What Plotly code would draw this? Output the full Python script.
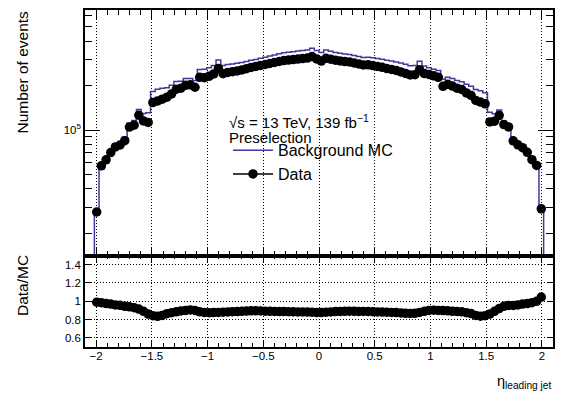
import numpy as np
import plotly.graph_objects as go

# ---------------- data ----------------
x_min, x_max, n_bins = -2.1, 2.1, 100

data_counts = [
    0, 0,
    27900, 57300, 62900, 70400, 76800, 79200, 84700, 104700, 107900, 125900,
    115200, 112600, 153300, 157300, 161800, 166900, 175600, 188800, 191700, 200800,
    202300, 194700, 227200, 226000, 230700, 239800, 261000, 240500, 245400, 248000,
    251100, 255000, 260100, 265000, 269200, 273400, 277600, 281900, 286300, 290800,
    295300, 297600, 299900, 302200, 304600, 306900, 314100, 302800, 293000, 305800,
    301500, 297000, 293500, 290500, 288500, 284100, 279800, 275400, 276000, 273000,
    269000, 265500, 260500, 257000, 253000, 247300, 241600, 236100, 236800, 256000,
    241000, 237900, 232500, 227200, 197700, 203900, 198500, 192000, 188000, 178300,
    171300, 158600, 154500, 150500, 113500, 114700, 125500, 108800, 105000, 84500,
    79500, 76000, 70700, 63000, 57600, 29300,
    0, 0,
]

mc_counts = [
    0, 0,
    28200, 58200, 64500, 72600, 80000, 82900, 89600, 111400, 116000, 137600,
    129400, 130900, 182100, 188400, 191500, 193000, 200700, 213300, 214200, 223100,
    223500, 216300, 256700, 257400, 263700, 273700, 297300, 273300, 277900, 279900,
    282800, 286500, 291300, 296100, 300400, 305800, 311200, 316700, 322000, 327500,
    332900, 335900, 338900, 341900, 345000, 348000, 356900, 345300, 334500, 347500,
    341100, 334800, 330100, 326400, 323800, 319200, 314700, 310100, 310800, 308100,
    304300, 301000, 296000, 292700, 288800, 283600, 278300, 272600, 272800, 291600,
    270800, 264300, 257800, 252400, 220200, 227800, 223000, 216200, 212400, 203800,
    198000, 187700, 184600, 178700, 132000, 128900, 136400, 115100, 110000, 88500,
    82800, 78400, 72500, 64000, 57600, 28000,
    0, 0,
]

x_tick_vals = [-2, -1.5, -1, -0.5, 0, 0.5, 1, 1.5, 2]
x_tick_text = ["\u22122", "\u22121.5", "\u22121", "\u22120.5", "0", "0.5", "1", "1.5", "2"]
main_tick_vals = [1e5]
main_tick_text = ["10<sup>5</sup>"]
main_minor_vals = [2e4, 3e4, 4e4, 5e4, 6e4, 7e4, 8e4, 9e4, 2e5, 3e5, 4e5, 5e5, 6e5]
ratio_tick_vals = [0.6, 0.8, 1.0, 1.2, 1.4]
ratio_tick_text = ["0.6", "0.8", "1", "1.2", "1.4"]

main_log_range = [4.151, 5.812]
ratio_range = [0.5, 1.5]

# ---------------- derived ----------------
edges = np.linspace(x_min, x_max, n_bins + 1)
centers = 0.5 * (edges[:-1] + edges[1:])
data = np.array(data_counts, dtype=float)
mc = np.array(mc_counts, dtype=float)

filled = np.nonzero(mc > 0)[0]
i0, i1 = filled[0], filled[-1]
floor = 10 ** (main_log_range[0] - 1)
step_x = np.concatenate([[edges[i0]], edges[i0:i1 + 1], [edges[i1 + 1], edges[i1 + 1]]])
step_y = np.concatenate([[floor], mc[i0:i1 + 1], [mc[i1], floor]])

dmask = data > 0
ratio = data[dmask] / mc[dmask]

FONT = "Liberation Sans, Arial, Helvetica, sans-serif"
MC_COLOR = "#3d3a9c"
GRID_DASH = "1px,2px"

# page is drawn inside the browser's default 8px body margin
OFF = 8
W, H = 564 - OFF, 403 - OFF
ML, MR, MT, MB = 85 - OFF, 11, 0, 56
PH = H - MT - MB
PW = W - ML - MR


def py(page_y):
    """paper y for a page pixel row"""
    return 1 - (page_y - OFF - MT) / PH


def px(page_x):
    return (page_x - OFF - ML) / PW


fig = go.Figure()

fig.add_trace(go.Scatter(
    x=step_x, y=step_y, mode="lines", line=dict(color=MC_COLOR, width=1.5, shape="hv"),
    name="Background MC", xaxis="x", yaxis="y", legendgroup="a",
))
fig.add_trace(go.Scatter(
    x=centers[dmask], y=data[dmask], mode="markers",
    marker=dict(color="black", size=9.5, symbol="circle"),
    name="Data", showlegend=False, xaxis="x", yaxis="y",
))
# legend entry for data (line + marker, ROOT "lep" style)
fig.add_trace(go.Scatter(
    x=[None], y=[None], mode="lines+markers",
    marker=dict(color="black", size=9.5), line=dict(color="black", width=1.5),
    name="Data", xaxis="x", yaxis="y", legendgroup="b",
))
fig.add_trace(go.Scatter(
    x=centers[dmask], y=ratio, mode="markers",
    marker=dict(color="black", size=9.5, symbol="circle"),
    showlegend=False, xaxis="x2", yaxis="y2",
))

split = py(255)

axis_common = dict(
    showline=True, linecolor="black", linewidth=1.5, mirror="allticks",
    ticks="inside", tickcolor="black", tickwidth=1, zeroline=False,
)

fig.update_layout(
    width=W, height=H,
    margin=dict(l=ML, r=MR, t=MT, b=MB),
    paper_bgcolor="white", plot_bgcolor="white",
    font=dict(family=FONT, color="black", size=12),
    xaxis=dict(
        domain=[0, 1], anchor="y", range=[x_min, x_max],
        tickmode="array", tickvals=x_tick_vals, showticklabels=False, ticklen=9,
        minor=dict(dtick=0.1, tick0=0, ticks="inside", ticklen=5, tickcolor="black", showgrid=False),
        showgrid=True, gridcolor="black", griddash=GRID_DASH, gridwidth=1,
        **axis_common,
    ),
    yaxis=dict(
        domain=[split, 1], anchor="x", type="log", range=main_log_range,
        tickmode="array", tickvals=main_tick_vals, ticktext=main_tick_text,
        ticklen=15, tickfont=dict(size=11.5), showgrid=False,
        minor=dict(tickmode="array", tickvals=main_minor_vals, ticks="inside", ticklen=7,
                   tickcolor="black", showgrid=False),
        **axis_common,
    ),
    xaxis2=dict(
        domain=[0, 1], anchor="y2", range=[x_min, x_max],
        tickmode="array", tickvals=x_tick_vals, ticktext=x_tick_text,
        tickfont=dict(size=11.5), ticklen=7, ticklabelstandoff=-3,
        minor=dict(dtick=0.1, tick0=0, ticks="inside", ticklen=4, tickcolor="black", showgrid=False),
        showgrid=True, gridcolor="black", griddash=GRID_DASH, gridwidth=1,
        **axis_common,
    ),
    yaxis2=dict(
        domain=[0, split], anchor="x2", range=ratio_range,
        tickmode="array", tickvals=ratio_tick_vals, ticktext=ratio_tick_text,
        tickfont=dict(size=11.5), ticklen=6,
        showgrid=True, gridcolor="black", griddash=GRID_DASH, gridwidth=1,
        **axis_common,
    ),
    showlegend=True,
    legend=dict(
        x=px(228), y=py(132), xanchor="left", yanchor="top",
        font=dict(size=16, family=FONT), bgcolor="rgba(0,0,0,0)", borderwidth=0,
        itemwidth=40, tracegroupgap=8, traceorder="normal",
    ),
    annotations=[
        dict(text="Number of events", xref="paper", yref="paper", x=px(22), y=1,
             xanchor="center", yanchor="top", textangle=-90, showarrow=False,
             font=dict(size=15.5), borderpad=0),
        dict(text="Data/MC", xref="paper", yref="paper", x=px(22), y=py(254),
             xanchor="center", yanchor="top", textangle=-90, showarrow=False,
             font=dict(size=15.5), borderpad=0),
        dict(text="\u03b7<sub>leading jet</sub>", xref="paper", yref="paper", x=1, y=py(382),
             xanchor="right", yanchor="middle", showarrow=False, font=dict(size=14.5)),
        dict(text="\u221as = 13 TeV, 139 fb<sup>\u22121</sup>", xref="paper", yref="paper",
             x=px(227), y=py(120), xanchor="left", yanchor="middle",
             showarrow=False, font=dict(size=15)),
        dict(text="Preselection", xref="paper", yref="paper",
             x=px(227), y=py(136), xanchor="left", yanchor="middle",
             showarrow=False, font=dict(size=15)),
    ],
)

fig.write_html("out.html")
